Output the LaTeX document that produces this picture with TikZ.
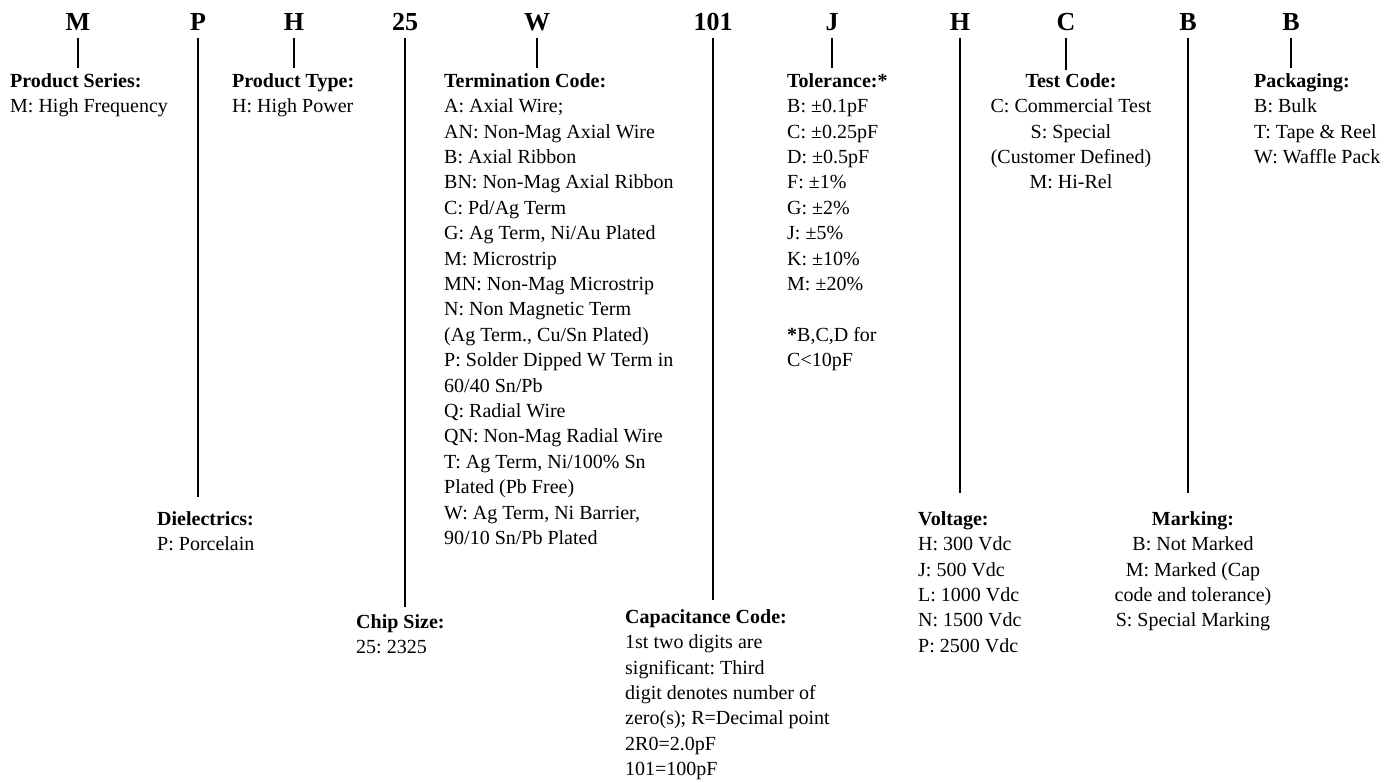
\documentclass[tikz,border=0pt]{standalone}
\usepackage{fontspec}
\setmainfont{Liberation Serif}
\frenchspacing
\newcommand{\headline}[1]{\rule{0pt}{15pt}\textbf{#1}}
\tikzset{
  codechar/.style={font=\fontsize{26}{30}\selectfont\bfseries, inner sep=0pt, anchor=base},
  descbox/.style={font=\fontsize{20}{25.4}\selectfont, align=left, inner sep=0pt, anchor=north west},
  descmid/.style={descbox, align=center, anchor=north},
  tick/.style={line width=1.6pt},
}
\begin{document}
\begin{tikzpicture}[x=1pt,y=-1pt]
    \useasboundingbox (0,0) rectangle (1391,782);

    % part number characters
    \node[codechar] (cM) at (78,30) {M};
    \node[codechar] (cP) at (198,30) {P};
    \node[codechar] (cH) at (294,30) {H};
    \node[codechar] (c25) at (405,30) {25};
    \node[codechar] (cW) at (537,30) {W};
    \node[codechar] (c101) at (713,30) {101};
    \node[codechar] (cJ) at (832,30) {J};
    \node[codechar] (cV) at (960,30) {H};
    \node[codechar] (cC) at (1066,30) {C};
    \node[codechar] (cB) at (1188,30) {B};
    \node[codechar] (cK) at (1291,30) {B};

    % descriptions (top = first baseline - 15)
    \node[descbox] (ser) at (10,72) {\headline{Product Series:}\\M: High Frequency};
    \node[descbox] (typ) at (232,72) {\headline{Product Type:}\\H: High Power};
    \node[descbox] (term) at (444,72) {\headline{Termination Code:}\\
        A: Axial Wire;\\
        AN: Non-Mag Axial Wire\\
        B: Axial Ribbon\\
        BN: Non-Mag Axial Ribbon\\
        C: Pd/Ag Term\\
        G: Ag Term, Ni/Au Plated\\
        M: Microstrip\\
        MN: Non-Mag Microstrip\\
        N: Non Magnetic Term\\
        (Ag Term., Cu/Sn Plated)\\
        P: Solder Dipped W Term in\\
        60/40 Sn/Pb\\
        Q: Radial Wire\\
        QN: Non-Mag Radial Wire\\
        T: Ag Term, Ni/100\% Sn\\
        Plated (Pb Free)\\
        W: Ag Term, Ni Barrier,\\
        90/10 Sn/Pb Plated};
    \node[descbox] (tol) at (787,72) {\headline{Tolerance:*}\\
        B: ±0.1pF\\ C: ±0.25pF\\ D: ±0.5pF\\ F: ±1\%\\
        G: ±2\%\\ J: ±5\%\\ K: ±10\%\\ M: ±20\%\\[25.4pt]
        \textbf{*}B,C,D for\\ C<10pF};
    \node[descmid] (test) at (1071,72) {\headline{Test Code:}\\C: Commercial Test\\S: Special\\(Customer Defined)\\M: Hi-Rel};
    \node[descbox] (pack) at (1254,72) {\headline{Packaging:}\\B: Bulk\\T: Tape \& Reel\\W: Waffle Pack};
    \node[descbox] (diel) at (157,510) {\headline{Dielectrics:}\\P: Porcelain};
    \node[descbox] (volt) at (918,510) {\headline{Voltage:}\\H: 300 Vdc\\J: 500 Vdc\\L: 1000 Vdc\\N: 1500 Vdc\\P: 2500 Vdc};
    \node[descmid] (mark) at (1193,510) {\headline{Marking:}\\B: Not Marked\\M: Marked (Cap\\code and tolerance)\\S: Special Marking};
    \node[descbox] (chip) at (356,613) {\headline{Chip Size:}\\25: 2325};
    \node[descbox] (cap) at (625,608) {\headline{Capacitance Code:}\\1st two digits are\\significant: Third\\digit denotes number of\\zero(s); R=Decimal point\\2R0=2.0pF\\101=100pF};

    % leader lines
    \draw[tick, shorten >=4pt] ([yshift=-8pt]cM.base) -- (cM.base |- ser.north);
    \draw[tick, shorten >=13pt] ([yshift=-8pt]cP.base) -- (cP.base |- diel.north);
    \draw[tick, shorten >=4pt] ([yshift=-8pt]cH.base) -- (cH.base |- typ.north);
    \draw[tick, shorten >=6pt] ([yshift=-8pt]c25.base) -- (c25.base |- chip.north);
    \draw[tick, shorten >=4pt] ([yshift=-8pt]cW.base) -- (cW.base |- term.north);
    \draw[tick, shorten >=8pt] ([yshift=-8pt]c101.base) -- (c101.base |- cap.north);
    \draw[tick, shorten >=4pt] ([yshift=-8pt]cJ.base) -- (cJ.base |- tol.north);
    \draw[tick, shorten >=17pt] ([yshift=-8pt]cV.base) -- (cV.base |- volt.north);
    \draw[tick, shorten >=2pt] ([yshift=-8pt]cC.base) -- (cC.base |- test.north);
    \draw[tick, shorten >=17pt] ([yshift=-8pt]cB.base) -- (cB.base |- mark.north);
    \draw[tick, shorten >=4pt] ([yshift=-8pt]cK.base) -- (cK.base |- pack.north);
\end{tikzpicture}
\end{document}
